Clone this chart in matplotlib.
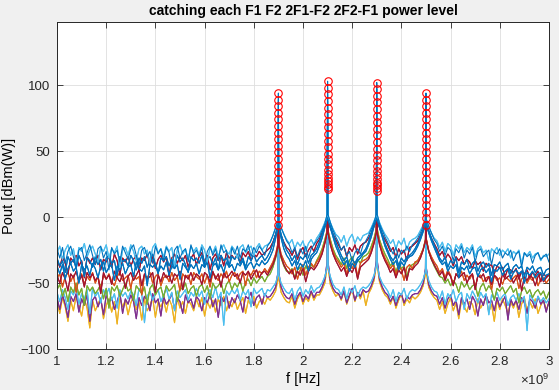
import numpy as np
import matplotlib.pyplot as plt
from matplotlib.ticker import FuncFormatter

plt.rcParams['font.family'] = ['Liberation Sans', 'DejaVu Sans']
plt.rcParams['mathtext.fontset'] = 'custom'
plt.rcParams['mathtext.rm'] = 'Liberation Sans'

# frequency grid of the spectrum traces, 1 to 3 GHz
freq = np.linspace(1.0e9, 3.0e9, 181)
tones = [1.9e9, 2.1e9, 2.3e9, 2.5e9]   # 2F1-F2, F1, F2, 2F2-F1

# power read at each tone, one row per sweep step (dBm)
pk_2f1_f2 = [-6, -1, 4, 9, 14, 19, 24, 29, 34, 39, 44, 49, 54, 59, 64, 69, 74, 79, 84, 89, 94]
pk_f1 = [21, 23, 25, 27, 30, 33, 36, 40, 44, 48, 53, 58, 63, 68, 73, 78, 83, 88, 93, 98, 103]
pk_f2 = [20, 22, 24, 26, 29, 32, 35, 39, 43, 47, 52, 57, 62, 67, 72, 77, 82, 87, 92, 97, 102]
pk_2f2_f1 = [-6, -1, 4, 9, 14, 19, 24, 29, 34, 39, 44, 49, 54, 59, 64, 69, 74, 79, 84, 89, 94]

# noise floor traces (value at the tone bin is the top of the skirt)
fl_yellow = [-64, -73, -61, -68, -79, -63, -71, -60, -67, -75, -62, -69, -84,
             -63, -71, -66, -61, -77, -67, -62, -72, -64, -81, -61, -68, -63,
             -74, -65, -60, -70, -64, -78, -62, -71, -67, -61, -76, -64, -68,
             -63, -72, -62, -67, -80, -61, -69, -64, -73, -63, -66, -71, -62,
             -68, -61, -75, -64, -69, -63, -72, -62, -67, -60, -71, -64, -68,
             -62, -70, -65, -61, -73, -63, -67, -60, -69, -64, -62, -66, -61,
             -63, -60, -56, -47, -57, -61, -64,
             -65, -60, -69, -62, -58, -66, -61, -64, -57, -63, -59,
             -59, -55, -50, -38, -51, -56, -60,
             -58, -63, -56, -66, -60, -55, -64, -57, -62, -56, -67,
             -58, -54, -48, -37, -49, -55, -59,
             -61, -66, -60, -69, -63, -58, -67, -62, -65, -60, -62,
             -60, -57, -52, -43, -53, -58, -61,
             -63, -70, -64, -73, -66, -61, -71, -65, -77, -63, -68, -72, -64, -66,
             -74, -62, -69, -65, -61, -72, -66, -79, -63, -70, -62, -67, -73, -64,
             -69, -63, -76, -66, -61, -71, -64, -69, -62, -73, -67, -63, -70, -65]
fl_purple = [-61, -70, -59, -66, -76, -60, -64, -58, -72, -62, -67, -59, -79,
             -63, -60, -68, -62, -74, -59, -65, -61, -70, -64, -57, -73, -62,
             -66, -59, -64, -77, -61, -67, -60, -63, -71, -58, -65, -62, -75,
             -60, -66, -63, -58, -70, -61, -64, -73, -59, -65, -62, -69, -60,
             -63, -71, -61, -65, -58, -68, -62, -76, -60, -64, -59, -69, -61,
             -65, -59, -63, -72, -60, -62, -57, -67, -61, -59, -66, -58, -61,
             -60, -57, -53, -42, -53, -58, -61,
             -62, -58, -66, -60, -57, -64, -59, -62, -56, -61, -57,
             -57, -53, -47, -34, -48, -54, -57,
             -58, -62, -56, -65, -59, -54, -63, -57, -60, -55, -57,
             -56, -52, -46, -33, -47, -53, -57,
             -59, -64, -60, -67, -61, -58, -65, -60, -62, -59, -58,
             -58, -55, -50, -39, -51, -56, -59,
             -60, -66, -61, -69, -62, -59, -67, -63, -74, -61, -66, -62, -70, -60,
             -64, -75, -62, -67, -59, -65, -63, -71, -61, -68, -64, -60, -78, -62,
             -67, -63, -70, -61, -65, -73, -62, -64, -69, -60, -66, -63, -72, -64]
fl_ltblue_lo = [-57, -64, -55, -61, -70, -56, -59, -53, -66, -58, -62, -55, -73,
                -54, -60, -57, -65, -55, -59, -54, -63, -58, -69, -55, -60, -57,
                -62, -56, -59, -67, -54, -58, -80, -60, -56, -63, -58, -55, -64,
                -59, -54, -62, -57, -71, -56, -61, -58, -55, -63, -57, -60, -54,
                -60, -56, -66, -58, -55, -61, -53, -62, -57, -82, -56, -59, -55,
                -58, -54, -63, -56, -59, -55, -68, -54, -58, -56, -54, -60, -55,
                -56, -53, -50, -44, -50, -54, -57,
                -58, -54, -63, -56, -53, -60, -55, -58, -52, -57, -54,
                -53, -50, -45, -38, -45, -51, -54,
                -55, -59, -53, -62, -54, -57, -52, -60, -55, -53, -54,
                -52, -49, -44, -37, -45, -50, -53,
                -56, -61, -55, -64, -57, -59, -54, -62, -57, -55, -56,
                -54, -51, -47, -41, -48, -53, -56,
                -57, -62, -56, -66, -58, -61, -55, -64, -59, -57, -70, -58, -62, -56,
                -60, -65, -57, -61, -58, -74, -59, -62, -57, -63, -60, -58, -67, -61,
                -59, -63, -58, -64, -60, -86, -59, -62, -66, -60, -64, -61, -65, -62]
fl_green = [-55, -51, -60, -54, -64, -53, -57, -50, -59, -54, -67, -52, -56,
            -53, -58, -55, -51, -62, -54, -69, -53, -56, -52, -60, -55, -50,
            -56, -54, -63, -52, -55, -58, -53, -66, -54, -51, -59, -55, -53,
            -61, -52, -56, -54, -51, -64, -53, -55, -50, -58, -54, -52, -60,
            -53, -51, -57, -52, -62, -50, -54, -52, -49, -58, -51, -48, -55,
            -50, -53, -48, -56, -49, -47, -52, -46, -50, -47, -45, -49, -45,
            -43, -38, -31, -23, -31, -37, -41,
            -42, -39, -46, -40, -38, -44, -37, -41, -36, -38, -33,
            -29, -24, -17, -10, -17, -24, -29,
            -32, -36, -31, -39, -33, -30, -37, -32, -35, -30, -29,
            -27, -22, -16, -9, -17, -23, -28,
            -32, -37, -34, -42, -35, -39, -37, -45, -38, -36, -35,
            -33, -29, -24, -17, -26, -32, -37,
            -41, -45, -46, -50, -47, -52, -48, -51, -57, -49, -53, -50, -55, -52,
            -51, -60, -53, -50, -56, -52, -55, -63, -54, -56, -53, -58, -55, -52,
            -57, -54, -65, -56, -53, -58, -55, -61, -57, -55, -59, -56, -62, -57]
fl_orange = [-46, -43, -53, -45, -42, -49, -44, -57, -46, -43, -51, -45, -48,
             -42, -50, -45, -55, -44, -47, -43, -49, -52, -45, -42, -48, -46,
             -44, -54, -43, -47, -45, -59, -44, -46, -42, -50, -45, -43, -52,
             -46, -44, -49, -42, -48, -45, -56, -43, -46, -44, -51, -42, -45,
             -47, -43, -50, -44, -53, -42, -45, -48, -43, -46, -41, -49, -44,
             -42, -47, -43, -41, -52, -42, -44, -40, -46, -41, -43, -39, -42,
             -38, -34, -28, -20, -28, -33, -37,
             -39, -43, -38, -47, -40, -36, -44, -38, -35, -38, -34,
             -31, -26, -19, -11, -19, -26, -31,
             -34, -38, -35, -43, -36, -39, -34, -45, -35, -33, -32,
             -30, -25, -18, -11, -19, -26, -31,
             -35, -39, -36, -44, -37, -40, -48, -38, -36, -39, -34,
             -33, -29, -24, -17, -25, -30, -34,
             -37, -42, -39, -46, -40, -44, -51, -43, -45, -41, -48, -44, -47, -43,
             -53, -45, -44, -49, -46, -45, -55, -44, -48, -46, -51, -45, -47, -49,
             -46, -44, -54, -47, -45, -50, -46, -48, -44, -52, -47, -46, -50, -47]
fl_red_lo = [-44, -50, -42, -47, -56, -43, -46, -41, -49, -44, -53, -42, -46,
             -43, -48, -45, -58, -42, -47, -44, -51, -41, -46, -49, -43, -54,
             -45, -42, -48, -44, -40, -52, -43, -47, -45, -42, -57, -44, -49,
             -42, -46, -44, -50, -43, -45, -41, -55, -44, -47, -42, -48, -43,
             -45, -51, -42, -44, -49, -41, -47, -43, -53, -42, -46, -44, -41,
             -45, -43, -50, -42, -44, -41, -47, -43, -40, -46, -42, -41, -44,
             -40, -36, -30, -22, -30, -36, -40,
             -43, -40, -47, -41, -44, -39, -49, -41, -38, -40, -37,
             -33, -28, -20, -12, -21, -28, -33,
             -37, -41, -38, -45, -39, -42, -37, -47, -38, -36, -34,
             -32, -27, -20, -12, -21, -28, -33,
             -37, -42, -39, -46, -40, -43, -38, -48, -39, -40, -37,
             -35, -31, -25, -18, -26, -32, -36,
             -40, -44, -41, -48, -42, -45, -52, -43, -46, -44, -42, -50, -45, -43,
             -55, -44, -46, -43, -49, -45, -51, -44, -46, -53, -43, -47, -45, -44,
             -50, -46, -43, -56, -45, -48, -44, -46, -52, -45, -43, -49, -46, -44]
fl_red_hi = [-32, -38, -30, -35, -43, -31, -34, -29, -37, -33, -46, -30, -35,
             -31, -36, -29, -40, -32, -34, -30, -38, -28, -33, -44, -31, -34,
             -30, -37, -32, -29, -41, -31, -33, -28, -36, -30, -39, -32, -29,
             -34, -30, -45, -31, -28, -35, -30, -33, -29, -38, -31, -28, -36,
             -30, -27, -34, -29, -40, -31, -28, -33, -29, -37, -27, -31, -29,
             -32, -28, -35, -27, -30, -26, -33, -28, -30, -26, -29, -27, -25,
             -23, -19, -13, -7, -14, -19, -23,
             -25, -29, -24, -32, -26, -23, -30, -25, -22, -26, -20,
             -17, -12, -7, -3, -8, -13, -17,
             -21, -25, -22, -30, -23, -26, -21, -28, -22, -20, -19,
             -16, -12, -7, -3, -8, -13, -17,
             -21, -26, -23, -31, -24, -28, -25, -33, -23, -22, -20,
             -18, -14, -10, -6, -11, -16, -20,
             -24, -29, -26, -32, -28, -31, -37, -30, -33, -30, -36, -32, -34, -39,
             -33, -36, -34, -41, -35, -37, -36, -43, -37, -39, -38, -45, -39, -40,
             -42, -39, -47, -41, -43, -40, -46, -42, -44, -41, -49, -43, -45, -44]
fl_blue_c = [-37, -43, -36, -47, -39, -35, -41, -38, -50, -36, -40, -37, -44,
             -35, -39, -46, -37, -34, -42, -38, -36, -48, -37, -40, -35, -43,
             -38, -36, -45, -34, -39, -41, -37, -52, -36, -38, -35, -42, -37,
             -40, -34, -44, -37, -39, -36, -47, -35, -38, -41, -36, -39, -35,
             -43, -36, -38, -34, -46, -37, -35, -40, -36, -42, -34, -38, -36,
             -41, -35, -37, -33, -40, -36, -34, -39, -35, -37, -33, -36, -34,
             -30, -25, -16, -8, -16, -24, -29,
             -32, -37, -33, -40, -35, -38, -33, -41, -32, -29, -27,
             -22, -16, -8, -2, -8, -15, -22,
             -27, -32, -36, -33, -41, -35, -38, -33, -31, -28, -26,
             -21, -15, -7, -2, -8, -15, -22,
             -27, -32, -36, -33, -40, -34, -37, -32, -30, -29, -26,
             -22, -17, -11, -6, -12, -18, -23,
             -28, -33, -36, -34, -41, -37, -39, -36, -46, -38, -40, -37, -43, -39,
             -38, -45, -40, -38, -42, -39, -49, -40, -41, -38, -44, -41, -39, -47,
             -42, -40, -43, -41, -50, -42, -44, -41, -46, -43, -42, -48, -44, -43]
fl_blue_b = [-31, -37, -33, -42, -30, -35, -32, -39, -29, -34, -45, -31, -33,
             -38, -30, -36, -32, -41, -31, -29, -35, -33, -44, -30, -34, -32,
             -37, -29, -33, -40, -31, -35, -30, -38, -32, -28, -36, -43, -31,
             -33, -30, -37, -32, -39, -29, -34, -31, -36, -42, -30, -33, -31,
             -35, -29, -38, -32, -30, -36, -31, -40, -29, -33, -31, -37, -30,
             -32, -29, -35, -31, -38, -30, -33, -28, -34, -31, -29, -33, -30,
             -26, -20, -13, -5, -13, -20, -25,
             -28, -33, -29, -36, -30, -32, -28, -35, -29, -27, -24,
             -19, -13, -6, 0, -6, -13, -19,
             -24, -29, -33, -30, -37, -32, -35, -31, -29, -27, -24,
             -19, -12, -5, 0, -6, -13, -20,
             -25, -30, -33, -29, -37, -31, -34, -30, -29, -27, -24,
             -20, -15, -9, -4, -10, -16, -21,
             -26, -31, -34, -30, -38, -33, -35, -31, -42, -34, -36, -32, -39, -35,
             -33, -41, -36, -34, -38, -35, -44, -36, -37, -34, -40, -37, -35, -43,
             -38, -36, -39, -37, -45, -38, -40, -37, -42, -39, -38, -44, -40, -39]
fl_ltblue_hi = [-27, -22, -32, -25, -21, -29, -24, -36, -23, -26, -20, -30, -25,
                -22, -28, -34, -23, -26, -21, -31, -24, -27, -22, -38, -25, -23,
                -29, -21, -26, -33, -24, -22, -28, -25, -35, -23, -20, -27, -24,
                -30, -22, -26, -23, -37, -25, -21, -28, -24, -32, -22, -26, -23,
                -29, -21, -25, -34, -23, -27, -22, -30, -24, -21, -26, -28, -22,
                -25, -31, -23, -21, -27, -24, -22, -29, -23, -20, -25, -22, -21,
                -19, -14, -8, -2, -8, -13, -17,
                -20, -17, -24, -19, -22, -18, -26, -20, -17, -21, -16,
                -13, -9, -4, 1, -4, -9, -13,
                -15, -19, -14, -22, -16, -13, -20, -15, -18, -14, -13,
                -12, -8, -3, 1, -4, -9, -13,
                -16, -20, -17, -24, -18, -21, -16, -25, -19, -17, -16,
                -14, -10, -6, -2, -7, -12, -16,
                -18, -23, -19, -26, -20, -22, -29, -21, -24, -20, -27, -23, -25, -21,
                -30, -24, -22, -27, -25, -33, -24, -26, -23, -29, -25, -27, -24, -31,
                -26, -28, -25, -35, -27, -29, -26, -31, -28, -27, -33, -29, -30, -28]
fl_blue_a = [-24, -31, -23, -35, -26, -22, -30, -38, -25, -23, -33, -27, -21,
             -29, -36, -24, -22, -31, -26, -40, -23, -28, -25, -34, -22, -27,
             -32, -24, -21, -29, -37, -25, -23, -30, -26, -35, -22, -28, -24,
             -33, -23, -27, -39, -25, -22, -31, -26, -24, -34, -21, -28, -25,
             -30, -23, -36, -26, -22, -29, -24, -33, -21, -27, -25, -38, -23,
             -28, -22, -31, -24, -26, -21, -30, -23, -27, -22, -25, -29, -22,
             -19, -14, -8, -3, -8, -13, -18,
             -21, -27, -23, -30, -24, -28, -22, -31, -24, -21, -18,
             -15, -10, -5, 2, -4, -10, -15,
             -19, -25, -22, -29, -26, -33, -27, -24, -28, -21, -18,
             -14, -9, -4, 2, -5, -10, -15,
             -19, -24, -28, -23, -31, -25, -27, -22, -26, -21, -19,
             -16, -12, -7, -2, -7, -12, -17,
             -20, -26, -22, -29, -23, -25, -33, -24, -27, -22, -31, -25, -28, -23,
             -34, -26, -24, -30, -27, -25, -36, -26, -28, -24, -31, -27, -29, -25,
             -33, -28, -26, -38, -27, -30, -28, -35, -29, -27, -32, -30, -28, -34]

floors = [fl_yellow, fl_purple, fl_ltblue_lo, fl_green, fl_orange, fl_red_lo,
          fl_red_hi, fl_blue_c, fl_blue_b, fl_ltblue_hi, fl_blue_a]
floor_colors = ['#EDB120', '#7E2F8E', '#4DBEEE', '#77AC30', '#D95319', '#A2142F',
                '#A2142F', '#0072BD', '#0072BD', '#4DBEEE', '#0072BD']
for fl in floors:
    assert len(fl) == len(freq), len(fl)

peaks = np.array([pk_2f1_f2, pk_f1, pk_f2, pk_2f2_f1]).T
tone_idx = [int(np.argmin(np.abs(freq - t))) for t in tones]
dx = 2e6


def trace(floor, pk):
    xs, ys = [], []
    for k, (f, v) in enumerate(zip(freq, floor)):
        if k in tone_idx:
            p = pk[tone_idx.index(k)]
            xs += [f - dx, f, f + dx]
            ys += [v, p, v]
        else:
            xs.append(f)
            ys.append(v)
    return xs, ys


fig = plt.figure(figsize=(5.59, 3.9), dpi=100, facecolor='#f0f0f0')
ax = fig.add_axes([0.102, 0.105, 0.880, 0.839])

n = len(peaks)
for i in range(n):
    j = i * len(floors) // n
    xs, ys = trace(floors[j], peaks[i])
    ax.plot(xs, ys, color=floor_colors[j], lw=0.8)

for t, col in zip(tones, peaks.T):
    ax.plot([t] * len(col), col, 'o', mfc='none', mec='#ff0000', ms=5.4, mew=0.8)

ax.set_xlim(1.0e9, 3.0e9)
ax.set_ylim(-100, 148)
ax.set_xticks(np.arange(1.0e9, 3.01e9, 0.2e9))
ax.set_yticks([-100, -50, 0, 50, 100])
ax.xaxis.set_major_formatter(FuncFormatter(lambda v, p: '%g' % (v / 1e9)))
ax.grid(True, color='#dedede', lw=0.6)
ax.set_axisbelow(True)
ax.tick_params(direction='in', top=True, right=True, length=4, width=0.6,
               labelsize=9.5, colors='#262626', pad=5)
for s in ax.spines.values():
    s.set_color('#262626')
    s.set_linewidth(0.7)

ax.set_title('catching each F1 F2 2F1-F2 2F2-F1 power level', fontsize=10,
             fontweight='bold', pad=5)
ax.set_xlabel('f [Hz]', fontsize=10.5, labelpad=3)
ax.set_ylabel('Pout [dBm(W)]', fontsize=10.5, labelpad=3)
ax.text(1.0, -0.095, r'$\times\mathregular{10^{9}}$', transform=ax.transAxes,
        ha='right', va='center', fontsize=9.5, color='#262626')

fig.savefig('out.png', dpi=100, facecolor=fig.get_facecolor())
